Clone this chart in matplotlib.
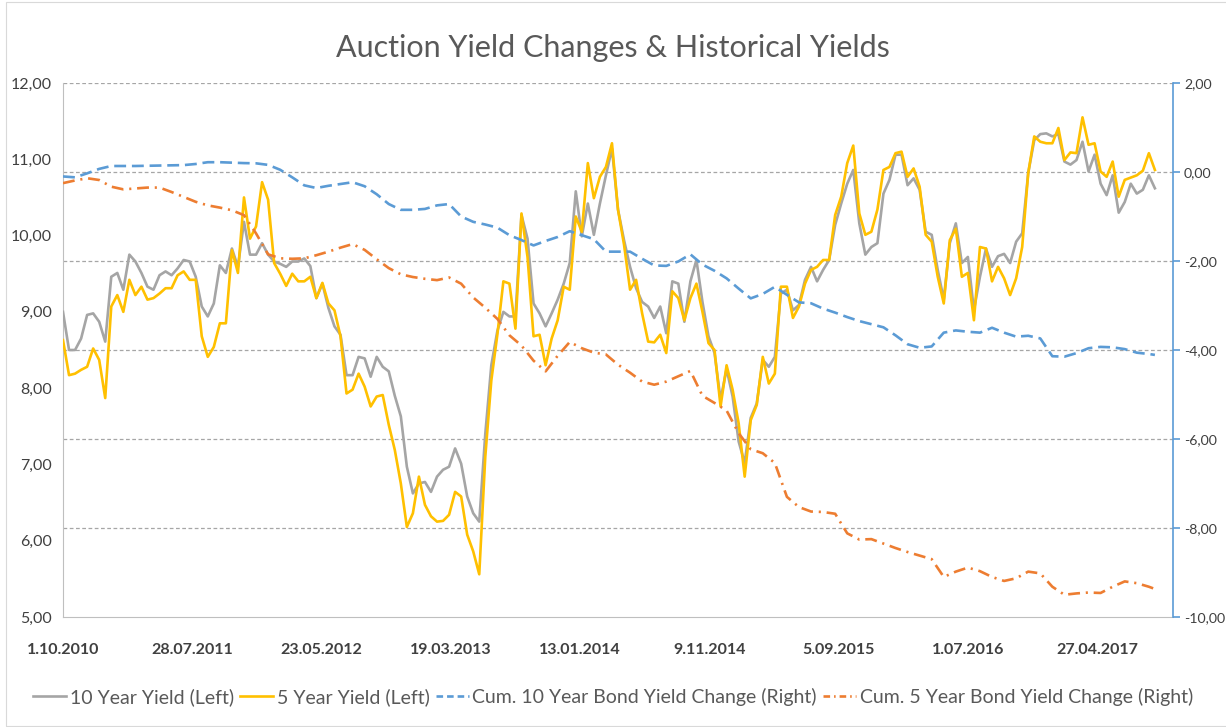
import matplotlib
matplotlib.use('Agg')
import matplotlib.pyplot as plt
import pandas as pd
from matplotlib.ticker import FuncFormatter, MultipleLocator
from matplotlib.lines import Line2D
from matplotlib.patches import Rectangle
from matplotlib.transforms import blended_transform_factory

plt.rcParams['font.family'] = ['Lato', 'DejaVu Sans']

# ---------------- data ----------------
title = "Auction Yield Changes & Historical Yields"
series_names = ["10 Year Yield (Left)", "5 Year Yield (Left)",
                "Cum. 10 Year Bond Yield Change (Right)",
                "Cum. 5 Year Bond Yield Change (Right)"]

start_date = "2010-10-01"
end_date = "2017-10-20"
step_days = 14          # spacing of yield observations
tick_step_days = 300    # spacing of x tick labels
x_tick_labels = ["1.10.2010", "28.07.2011", "23.05.2012", "19.03.2013", "13.01.2014",
                 "9.11.2014", "5.09.2015", "1.07.2016", "27.04.2017"]

yield_10y = [
    9.00, 8.50, 8.50, 8.65, 8.96, 8.98, 8.87, 8.61, 9.46, 9.51,
    9.29, 9.75, 9.66, 9.51, 9.33, 9.29, 9.48, 9.53, 9.48, 9.57,
    9.68, 9.66, 9.46, 9.07, 8.94, 9.11, 9.61, 9.51, 9.83, 9.59,
    10.18, 9.75, 9.75, 9.90, 9.75, 9.66, 9.63, 9.59, 9.66, 9.66,
    9.70, 9.60, 9.18, 9.37, 9.05, 8.81, 8.70, 8.17, 8.17, 8.41,
    8.39, 8.15, 8.41, 8.28, 8.22, 7.90, 7.63, 6.97, 6.62, 6.75,
    6.77, 6.64, 6.84, 6.93, 6.97, 7.21, 7.01, 6.58, 6.36, 6.25,
    7.40, 8.30, 8.75, 9.00, 8.94, 8.94, 10.27, 9.96, 9.11, 8.98,
    8.81, 8.98, 9.16, 9.37, 9.64, 10.58, 9.99, 10.42, 10.01, 10.42,
    10.79, 11.14, 10.34, 9.94, 9.59, 9.31, 9.13, 9.07, 8.92, 9.07,
    8.72, 9.40, 9.37, 8.87, 9.40, 9.68, 9.13, 8.68, 8.46, 7.85,
    8.25, 7.89, 7.30, 7.02, 7.61, 7.80, 8.37, 8.28, 8.41, 9.24,
    9.29, 9.02, 9.09, 9.42, 9.59, 9.40, 9.55, 9.68, 10.14, 10.42,
    10.68, 10.86, 10.16, 9.75, 9.85, 9.90, 10.55, 10.73, 11.06, 11.06,
    10.66, 10.75, 10.60, 10.05, 10.01, 9.55, 9.16, 9.90, 10.16, 9.64,
    9.72, 9.02, 9.46, 9.83, 9.59, 9.73, 9.76, 9.64, 9.92, 10.03,
    10.82, 11.25, 11.33, 11.34, 11.30, 11.33, 10.97, 10.93, 10.99, 11.23,
    10.84, 11.06, 10.68, 10.53, 10.79, 10.30, 10.44, 10.68, 10.55, 10.60,
    10.79, 10.62,
]

yield_5y = [
    8.63, 8.17, 8.19, 8.24, 8.28, 8.52, 8.37, 7.87, 9.07, 9.22,
    9.00, 9.42, 9.22, 9.33, 9.16, 9.18, 9.24, 9.31, 9.31, 9.48,
    9.53, 9.42, 9.42, 8.68, 8.41, 8.54, 8.85, 8.85, 9.81, 9.51,
    10.50, 9.96, 10.12, 10.70, 10.47, 9.64, 9.50, 9.34, 9.50, 9.40,
    9.40, 9.46, 9.18, 9.38, 9.11, 9.02, 8.68, 7.93, 7.98, 8.19,
    8.02, 7.76, 7.89, 7.91, 7.52, 7.19, 6.75, 6.18, 6.36, 6.84,
    6.47, 6.32, 6.25, 6.26, 6.34, 6.64, 6.58, 6.08, 5.86, 5.56,
    7.10, 8.10, 8.70, 9.40, 9.37, 8.78, 10.29, 9.72, 8.68, 8.70,
    8.30, 8.65, 8.89, 9.33, 9.29, 10.25, 10.05, 10.95, 10.49, 10.77,
    10.90, 11.21, 10.34, 9.88, 9.29, 9.42, 8.98, 8.61, 8.60, 8.70,
    8.46, 9.27, 9.18, 8.89, 9.18, 9.37, 9.00, 8.59, 8.50, 7.76,
    8.30, 7.98, 7.54, 6.84, 7.58, 7.78, 8.41, 8.06, 8.19, 9.33,
    9.33, 8.92, 9.07, 9.37, 9.55, 9.59, 9.68, 9.68, 10.27, 10.51,
    10.95, 11.18, 10.29, 10.01, 10.05, 10.34, 10.86, 10.90, 11.08, 11.10,
    10.77, 10.88, 10.64, 10.01, 9.92, 9.46, 9.11, 9.94, 10.09, 9.46,
    9.51, 8.89, 9.85, 9.83, 9.40, 9.59, 9.44, 9.22, 9.44, 9.85,
    10.82, 11.30, 11.23, 11.21, 11.21, 11.41, 10.99, 11.09, 11.08, 11.55,
    11.19, 11.21, 10.84, 10.77, 10.97, 10.51, 10.73, 10.76, 10.79, 10.85,
    11.08, 10.86,
]

# cumulative changes, sampled every second observation date plus the last one
cum_10y = [
    -0.10, -0.12, -0.03, 0.07, 0.135, 0.135, 0.135, 0.14, 0.145, 0.15,
    0.155, 0.18, 0.22, 0.22, 0.21, 0.20, 0.195, 0.16, 0.05, -0.12,
    -0.30, -0.36, -0.31, -0.27, -0.23, -0.32, -0.50, -0.72, -0.85, -0.85,
    -0.83, -0.75, -0.72, -1.00, -1.12, -1.18, -1.25, -1.42, -1.53, -1.65,
    -1.55, -1.46, -1.33, -1.42, -1.51, -1.79, -1.79, -1.79, -1.95, -2.10,
    -2.11, -2.01, -1.85, -2.08, -2.22, -2.39, -2.62, -2.84, -2.74, -2.58,
    -2.76, -2.93, -2.95, -3.07, -3.16, -3.26, -3.35, -3.42, -3.49, -3.67,
    -3.87, -3.95, -3.92, -3.61, -3.56, -3.59, -3.61, -3.50, -3.61, -3.70,
    -3.68, -3.74, -4.14, -4.15, -4.07, -3.96, -3.93, -3.94, -3.98, -4.06,
    -4.09, -4.11,
]

cum_5y = [
    -0.25, -0.19, -0.14, -0.18, -0.33, -0.39, -0.37, -0.35, -0.35, -0.45,
    -0.56, -0.67, -0.75, -0.80, -0.86, -0.97, -1.38, -1.85, -1.94, -1.95,
    -1.94, -1.87, -1.79, -1.70, -1.62, -1.75, -1.96, -2.16, -2.30, -2.36,
    -2.40, -2.43, -2.37, -2.51, -2.82, -3.05, -3.30, -3.67, -3.90, -4.24,
    -4.48, -4.13, -3.82, -3.96, -4.06, -4.10, -4.33, -4.51, -4.71, -4.78,
    -4.71, -4.59, -4.47, -5.03, -5.19, -5.36, -5.87, -6.23, -6.32, -6.54,
    -7.30, -7.53, -7.63, -7.64, -7.68, -8.12, -8.26, -8.25, -8.35, -8.45,
    -8.54, -8.62, -8.70, -9.10, -8.98, -8.89, -8.97, -9.10, -9.19, -9.13,
    -8.98, -9.02, -9.32, -9.50, -9.47, -9.45, -9.46, -9.32, -9.20, -9.24,
    -9.32, -9.37,
]

# ---------------- build dates ----------------
start = pd.Timestamp(start_date)
obs_dates = pd.date_range(start, periods=len(yield_10y), freq=f"{step_days}D")
cum_dates = list(obs_dates[::2]) + [obs_dates[-1]]
tick_dates = [start + pd.Timedelta(days=tick_step_days * k) for k in range(len(x_tick_labels))]

# ---------------- styling ----------------
C_GRAY = "#A5A5A5"
C_YELLOW = "#FFC000"
C_BLUE = "#5B9BD5"
C_ORANGE = "#ED7D31"
C_TEXT = "#404040"
C_TITLE = "#595959"
C_AXIS = "#BFBFBF"

W, H = 1226, 727
fig = plt.figure(figsize=(W / 100, H / 100), dpi=100)
# light chart-area border (left, top, bottom edges)
fig.patches.append(Rectangle((6 / W, 1 / H), (1226 - 6) / W + 0.01, (725 - 1) / H,
                             transform=fig.transFigure, fill=False,
                             edgecolor="#D9D9D9", lw=0.8))
ax = fig.add_axes([63 / W, 1 - 617 / H, 1110 / W, 534 / H])
ax2 = ax.twinx()

lw = 1.9
ax.plot(obs_dates, yield_10y, color=C_GRAY, lw=lw, zorder=3)
ax.plot(obs_dates, yield_5y, color=C_YELLOW, lw=lw, zorder=4)
ax2.plot(cum_dates, cum_10y, color=C_BLUE, lw=lw, linestyle=(0, (4.5, 2.2)), zorder=3)
ax2.plot(cum_dates, cum_5y, color=C_ORANGE, lw=lw, linestyle=(0, (4.5, 2.2, 0.8, 2.2)), zorder=3)

ax.set_xlim(start, pd.Timestamp(end_date))
ax.set_ylim(5, 12)
ax2.set_ylim(-10, 2)

fmt = FuncFormatter(lambda v, p: f"{v:.2f}".replace(".", ","))
ax.yaxis.set_major_locator(MultipleLocator(1))
ax.yaxis.set_major_formatter(fmt)
ax2.yaxis.set_major_locator(MultipleLocator(2))
ax2.yaxis.set_major_formatter(fmt)

# gridlines at the right-axis ticks, drawn underneath the yield lines
trans = blended_transform_factory(ax.transAxes, ax2.transData)
for v in range(-8, 3, 2):
    ax.add_line(Line2D([0, 1], [v, v], transform=trans, color="#A6A6A6",
                       lw=0.9, linestyle=(0, (3, 2)), zorder=1))

ax.set_xticks(tick_dates)
ax.set_xticklabels(x_tick_labels)
ax.tick_params(axis="x", length=0, pad=19, labelsize=11.5, labelcolor=C_TEXT)
for t in ax.get_xticklabels():
    t.set_fontweight("bold")
ax.tick_params(axis="y", length=0, pad=8, labelsize=11.5, labelcolor=C_TEXT)
ax2.tick_params(axis="y", direction="out", length=5, width=1.2, color=C_BLUE,
                pad=3, labelsize=10.2, labelcolor=C_TEXT)

for s in ["top", "right"]:
    ax.spines[s].set_visible(False)
ax.spines["left"].set_color(C_AXIS)
ax.spines["bottom"].set_color(C_AXIS)
for s in ["top", "left", "bottom"]:
    ax2.spines[s].set_visible(False)
ax2.spines["right"].set_color(C_BLUE)
ax2.spines["right"].set_linewidth(1.2)

fig.text(0.5, 1 - 48 / H, title, ha="center", va="center", fontsize=22, color=C_TITLE)

handles = [
    Line2D([], [], color=C_GRAY, lw=lw),
    Line2D([], [], color=C_YELLOW, lw=lw),
    Line2D([], [], color=C_BLUE, lw=lw, linestyle=(0, (2.5, 1.5))),
    Line2D([], [], color=C_ORANGE, lw=lw, linestyle=(0, (2.5, 1.5, 0.6, 1.5))),
]
fig.legend(handles, series_names, loc="center", bbox_to_anchor=(0.5, 1 - 697 / H),
           ncol=4, frameon=False, fontsize=14, labelcolor=C_TITLE,
           handlelength=1.7, handletextpad=0.2, columnspacing=0.3)

fig.savefig("out.png", dpi=100)
